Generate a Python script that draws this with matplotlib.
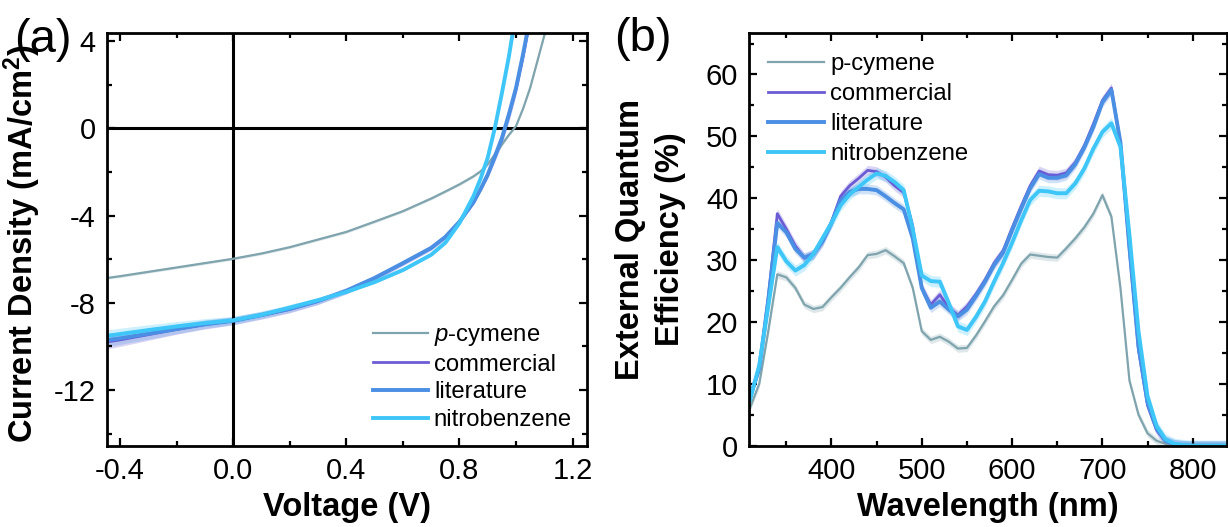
import matplotlib
matplotlib.use("Agg")
import matplotlib.pyplot as plt
import numpy as np

plt.rcParams['font.family'] = ['Liberation Sans', 'DejaVu Sans']
plt.rcParams['axes.unicode_minus'] = False
plt.rcParams['mathtext.fontset'] = 'custom'
plt.rcParams['mathtext.it'] = 'Liberation Sans:italic'
plt.rcParams['mathtext.rm'] = 'Liberation Sans'
plt.rcParams['mathtext.bf'] = 'Liberation Sans:bold'

# ---------------- data: (a) J-V ----------------
voltage = [-0.45, -0.4, -0.3, -0.2, -0.1, 0.0, 0.1, 0.2, 0.3, 0.4, 0.5, 0.6, 0.7, 0.75,
           0.8, 0.85, 0.875, 0.9, 0.925, 0.95, 0.975, 1.0, 1.025, 1.05, 1.075, 1.1, 1.125]
j_pcymene = [-6.87, -6.78, -6.58, -6.38, -6.18, -5.98, -5.74, -5.45, -5.1, -4.75, -4.28, -3.8,
             -3.22, -2.9, -2.57, -2.2, -1.97, -1.65, -1.2, -0.75, -0.3, 0.1, 0.9, 1.85, 3.05, 4.25, 5.6]
j_commercial = [-9.8, -9.7, -9.46, -9.22, -9.0, -8.83, -8.58, -8.3, -7.93, -7.45, -6.88, -6.2,
                -5.5, -5.0, -4.3, -3.4, -2.8, -2.15, -1.35, -0.5, 0.6, 1.8, 3.3, 5.0, 7.0, 9.0, 11.0]
j_literature = [-9.72, -9.63, -9.42, -9.2, -8.98, -8.82, -8.56, -8.28, -7.92, -7.45, -6.86, -6.18,
                -5.48, -4.98, -4.28, -3.38, -2.78, -2.12, -1.3, -0.45, 0.65, 1.85, 3.4, 5.1, 7.1, 9.1, 11.1]
j_nitrobenzene = [-9.52, -9.43, -9.25, -9.08, -8.93, -8.8, -8.55, -8.22, -7.88, -7.5, -7.05, -6.5,
                  -5.8, -5.25, -4.35, -3.1, -2.3, -1.35, 0.0, 1.6, 3.3, 5.3, 7.5, 10.0, 12.0, 14.0, 16.0]
jerr_pcymene = [0.06] * len(voltage)
jerr_commercial = [0.32, 0.3, 0.26, 0.22, 0.2, 0.18, 0.17, 0.16, 0.15, 0.14, 0.12, 0.1, 0.1, 0.1,
                   0.1, 0.1, 0.1, 0.15, 0.2, 0.25, 0.3, 0.3, 0.3, 0.3, 0.3, 0.3, 0.3]
jerr_literature = [0.3, 0.28, 0.25, 0.22, 0.2, 0.18, 0.17, 0.16, 0.15, 0.14, 0.12, 0.1, 0.1, 0.1,
                   0.1, 0.1, 0.1, 0.15, 0.2, 0.25, 0.3, 0.3, 0.3, 0.3, 0.3, 0.3, 0.3]
jerr_nitrobenzene = [0.25, 0.24, 0.22, 0.2, 0.18, 0.16, 0.14, 0.12, 0.1, 0.1, 0.1, 0.08, 0.08, 0.08,
                     0.08, 0.1, 0.1, 0.1, 0.1, 0.1, 0.1, 0.1, 0.1, 0.1, 0.1, 0.1, 0.1]

# ---------------- data: (b) EQE ----------------
wavelength = [310, 320, 330, 340, 350, 360, 370, 380, 390, 400, 410, 420, 430, 440, 450, 460, 470,
              480, 490, 500, 510, 520, 530, 540, 550, 560, 570, 580, 590, 600, 610, 620, 630, 640,
              650, 660, 670, 680, 690, 700, 710, 720, 730, 740, 750, 760, 770, 780, 790, 800, 810,
              820, 830, 840]
eqe_pcymene = [6.2, 10.0, 18.5, 27.7, 27.2, 25.5, 22.8, 22.1, 22.4, 24.0, 25.5, 27.2, 28.8, 30.8,
               31.0, 31.6, 30.6, 29.5, 25.5, 18.5, 17.1, 17.6, 16.8, 15.7, 15.8, 17.8, 20.1, 22.5,
               24.3, 26.8, 29.4, 30.9, 30.7, 30.5, 30.4, 31.9, 33.5, 35.3, 37.5, 40.5, 37.0, 25.5,
               10.5, 5.0, 2.0, 0.8, 0.3, 0.1, 0.05, 0.0, 0.0, 0.0, 0.0, 0.0]
eqe_commercial = [8.0, 12.5, 24.0, 37.5, 35.0, 32.3, 30.3, 30.9, 33.0, 36.2, 40.3, 42.0, 43.2, 44.5,
                  44.3, 43.4, 42.0, 40.9, 35.5, 25.5, 22.8, 24.4, 22.3, 21.1, 22.5, 24.5, 26.8, 29.5,
                  31.5, 35.2, 38.7, 42.0, 44.4, 43.8, 43.7, 44.1, 45.8, 48.5, 52.0, 55.8, 57.8, 48.9,
                  31.5, 15.5, 6.5, 2.5, 0.7, 0.2, 0.05, 0.0, 0.0, 0.0, 0.0, 0.0]
eqe_literature = [8.0, 12.5, 23.5, 36.0, 34.5, 31.8, 30.4, 31.0, 33.0, 36.0, 39.6, 41.0, 41.5, 41.5,
                  41.3, 40.3, 39.2, 38.2, 33.5, 25.5, 22.3, 23.3, 22.0, 20.9, 22.0, 24.2, 26.5, 29.2,
                  31.2, 34.8, 38.3, 41.6, 43.9, 43.3, 43.3, 43.7, 45.5, 48.2, 51.5, 55.5, 57.5, 49.0,
                  32.0, 16.0, 7.0, 2.8, 0.8, 0.2, 0.05, 0.0, 0.0, 0.0, 0.0, 0.0]
eqe_nitrobenzene = [7.5, 13.0, 22.5, 32.1, 29.8, 28.3, 29.2, 31.0, 33.5, 36.0, 38.8, 40.6, 41.8, 43.0,
                    44.0, 43.6, 42.6, 41.3, 35.0, 27.5, 26.6, 26.5, 23.0, 19.3, 18.7, 20.8, 23.3, 26.5,
                    29.5, 32.8, 36.4, 39.7, 41.2, 41.1, 40.8, 40.8, 42.4, 44.8, 48.0, 50.7, 52.1, 48.3,
                    34.0, 18.5, 8.0, 3.2, 1.0, 0.3, 0.1, 0.0, 0.0, 0.0, 0.0, 0.0]
eerr_pcymene = [0.6] * len(wavelength)
eerr_commercial = [0.8] * len(wavelength)
eerr_literature = [0.8] * len(wavelength)
eerr_nitrobenzene = [0.9] * len(wavelength)

labels_a = ['$p$-cymene', 'commercial', 'literature', 'nitrobenzene']
labels_b = ['p-cymene', 'commercial', 'literature', 'nitrobenzene']
colors = ['#7fa4ae', '#6b5cd6', '#4a8fe3', '#3ec6f8']
widths = [1.6, 2.0, 2.8, 2.8]

W, H = 1228, 527
fig = plt.figure(figsize=(W / 100, H / 100), dpi=100)

def frac(x0, y0, x1, y1):
    return [x0 / W, 1 - y1 / H, (x1 - x0) / W, (y1 - y0) / H]

axa = fig.add_axes(frac(106.7, 33, 586.7, 445.7))
axb = fig.add_axes(frac(749.3, 33, 1227, 445.7))

for ax in (axa, axb):
    for s in ax.spines.values():
        s.set_linewidth(2.0)
    ax.tick_params(which='both', direction='in', top=True, right=True, width=1.6, labelsize=21)
    ax.tick_params(which='major', length=5.5, pad=8)
    ax.tick_params(which='minor', length=3.5)

LABEL_FS = 23.5
LEG_FS = 17.2

# panel a
V = np.array(voltage)
a_series = [(j_pcymene, jerr_pcymene), (j_commercial, jerr_commercial),
            (j_literature, jerr_literature), (j_nitrobenzene, jerr_nitrobenzene)]
for (j, e), c, lw, lab in zip(a_series, colors, widths, labels_a):
    j = np.array(j); e = np.array(e)
    axa.fill_between(V, j - e, j + e, color=c, alpha=0.25, linewidth=0)
    axa.plot(V, j, color=c, lw=lw, label=lab)
axa.axhline(0, color='black', lw=2.2, zorder=1)
axa.axvline(0, color='black', lw=2.2, zorder=1)
axa.set_xlim(-0.447, 1.25)
axa.set_ylim(-14.55, 4.37)
axa.set_xticks([-0.4, 0.0, 0.4, 0.8, 1.2])
axa.set_xticklabels(['-0.4', '0.0', '0.4', '0.8', '1.2'])
axa.set_xticks([-0.2, 0.2, 0.6, 1.0], minor=True)
axa.set_yticks([4, 0, -4, -8, -12])
axa.set_yticklabels(['4', '0', '-4', '-8', '-12'])
axa.set_yticks([2, -2, -6, -10, -14], minor=True)
axa.set_xlabel('Voltage (V)', fontsize=LABEL_FS, fontweight='bold')
axa.set_ylabel('Current Density (mA/cm$^\\mathbf{2}$)', fontsize=LABEL_FS, fontweight='bold')
axa.xaxis.set_label_coords(0.5, -0.113)
axa.yaxis.set_label_coords(-0.133, 0.49)
axa.legend(loc='upper left', bbox_to_anchor=(373 / W, 1 - 324 / H), bbox_transform=fig.transFigure,
           frameon=False, fontsize=LEG_FS, handlelength=2.3, handletextpad=0.25, labelspacing=0.24,
           borderpad=0, borderaxespad=0)

# panel b
L = np.array(wavelength)
b_series = [(eqe_pcymene, eerr_pcymene), (eqe_commercial, eerr_commercial),
            (eqe_literature, eerr_literature), (eqe_nitrobenzene, eerr_nitrobenzene)]
for (y, e), c, lw, lab in zip(b_series, colors, widths, labels_b):
    y = np.array(y); e = np.array(e)
    axb.fill_between(L, np.clip(y - e, 0, None), y + e, color=c, alpha=0.25, linewidth=0)
    axb.plot(L, y, color=c, lw=lw, label=lab)
axb.set_xlim(309, 838)
axb.set_ylim(0, 66.7)
axb.set_xticks([400, 500, 600, 700, 800])
axb.set_xticks([350, 450, 550, 650, 750], minor=True)
axb.set_yticks([0, 10, 20, 30, 40, 50, 60])
axb.set_yticks([5, 15, 25, 35, 45, 55, 65], minor=True)
axb.set_xlabel('Wavelength (nm)', fontsize=LABEL_FS, fontweight='bold')
axb.set_ylabel('External Quantum\nEfficiency (%)', fontsize=LABEL_FS, fontweight='bold', linespacing=1.35)
axb.xaxis.set_label_coords(0.5, -0.113)
axb.yaxis.set_label_coords(-0.133, 0.5)
axb.legend(loc='upper left', bbox_to_anchor=(768 / W, 1 - 53 / H), bbox_transform=fig.transFigure,
           frameon=False, fontsize=LEG_FS, handlelength=2.35, handletextpad=0.25, labelspacing=0.34,
           borderpad=0, borderaxespad=0)

fig.text(14 / W, 1 - 40 / H, '(a)', fontsize=34, va='center', ha='left')
fig.text(614 / W, 1 - 39 / H, '(b)', fontsize=34, va='center', ha='left')

fig.savefig('out.png', dpi=100)
